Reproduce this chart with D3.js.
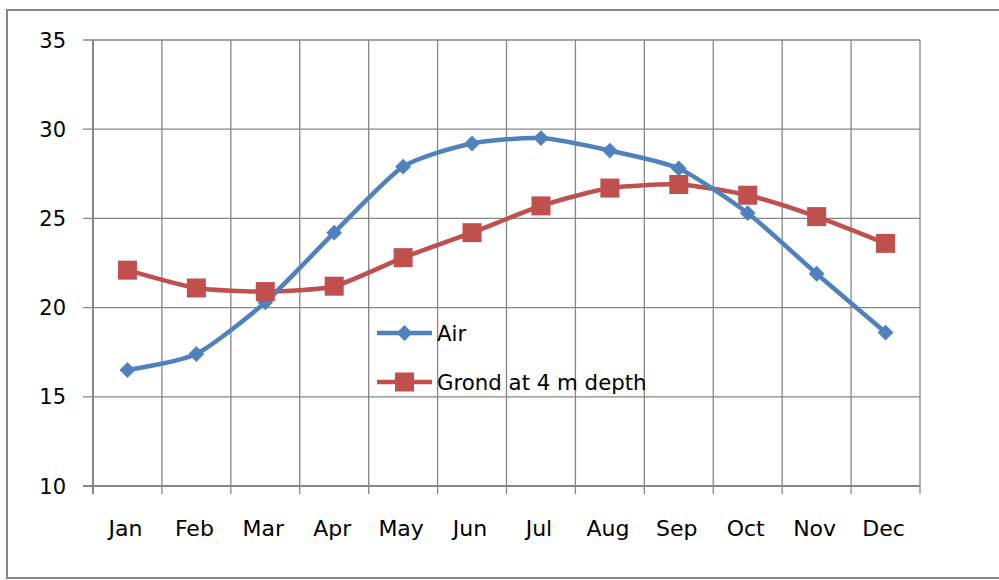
<!DOCTYPE html>
<html>
<head>
<meta charset="utf-8">
<script src="https://cdn.jsdelivr.net/npm/d3@7"></script>
<style>
  html, body { margin: 0; padding: 0; background: #fff; }
  svg { display: block; }
  text { font-family: "DejaVu Sans", "Open Sans", sans-serif; fill: #000; }
</style>
</head>
<body>
<svg id="chart" width="999" height="580"></svg>
<script>
// Monthly mean temperatures (°C)
const months = ["Jan", "Feb", "Mar", "Apr", "May", "Jun", "Jul", "Aug", "Sep", "Oct", "Nov", "Dec"];
const airTemp = [16.5, 17.4, 20.3, 24.2, 27.9, 29.2, 29.5, 28.8, 27.8, 25.3, 21.9, 18.6];
const groundTemp = [22.1, 21.1, 20.9, 21.2, 22.8, 24.2, 25.7, 26.7, 26.9, 26.3, 25.1, 23.6];
const yTicks = [10, 15, 20, 25, 30, 35];
const seriesNames = ["Air", "Grond at 4 m depth"];

const svg = d3.select("#chart");
const plot = { left: 93, right: 920, top: 40, bottom: 486 };
const gridColor = "#868686";
const blue = "#4F81BD", red = "#C0504D";

// outer chart frame
svg.append("rect")
  .attr("x", 7).attr("y", 10).attr("width", 1000).attr("height", 568)
  .attr("fill", "none").attr("stroke", gridColor).attr("stroke-width", 2);

const x = d3.scaleBand().domain(months).range([plot.left, plot.right]).padding(0);
const y = d3.scaleLinear().domain([10, 35]).range([plot.bottom, plot.top]);

// horizontal gridlines + y tick marks
svg.append("g").selectAll("line").data(yTicks).join("line")
  .attr("x1", plot.left - 10).attr("x2", plot.right)
  .attr("y1", d => y(d)).attr("y2", d => y(d))
  .attr("stroke", gridColor).attr("stroke-width", 1.3);

// vertical gridlines at category boundaries + x tick marks
const bounds = months.map(m => x(m)).concat([plot.right]);
svg.append("g").selectAll("line").data(bounds).join("line")
  .attr("x1", d => d).attr("x2", d => d)
  .attr("y1", plot.top).attr("y2", plot.bottom + 8)
  .attr("stroke", gridColor).attr("stroke-width", 1.3);

// axis lines
svg.append("line").attr("x1", plot.left).attr("x2", plot.left)
  .attr("y1", plot.top).attr("y2", plot.bottom + 8)
  .attr("stroke", gridColor).attr("stroke-width", 2);
svg.append("line").attr("x1", plot.left - 10).attr("x2", plot.right)
  .attr("y1", plot.bottom).attr("y2", plot.bottom)
  .attr("stroke", gridColor).attr("stroke-width", 2);

// y tick labels
svg.append("g").selectAll("text").data(yTicks).join("text")
  .attr("x", 66).attr("y", d => y(d)).attr("dy", "0.36em")
  .attr("text-anchor", "end").attr("font-size", 21)
  .text(d => d);

// x tick labels
svg.append("g").selectAll("text").data(months).join("text")
  .attr("x", d => x(d) + x.bandwidth() / 2 - 2).attr("y", 536)
  .attr("text-anchor", "middle").attr("font-size", 22)
  .text(d => d);

const cx = (d, i) => x(months[i]) + x.bandwidth() / 2;
const line = d3.line().x(cx).y(d => y(d)).curve(d3.curveCardinal.tension(0.35));

// ground series
svg.append("path").datum(groundTemp)
  .attr("d", line).attr("fill", "none")
  .attr("stroke", red).attr("stroke-width", 4.5).attr("stroke-linejoin", "round");
// air series
svg.append("path").datum(airTemp)
  .attr("d", line).attr("fill", "none")
  .attr("stroke", blue).attr("stroke-width", 4.5).attr("stroke-linejoin", "round");

const diamond = d3.symbol().type(d3.symbolDiamond2).size(160);
const sq = 19;

svg.append("g").selectAll("path").data(airTemp).join("path")
  .attr("d", diamond)
  .attr("transform", (d, i) => `translate(${cx(d, i)},${y(d)})`)
  .attr("fill", blue);

svg.append("g").selectAll("rect").data(groundTemp).join("rect")
  .attr("x", (d, i) => cx(d, i) - sq / 2).attr("y", d => y(d) - sq / 2)
  .attr("width", sq).attr("height", sq).attr("fill", red);

// legend
const legend = svg.append("g");
const legendRows = [
  { name: seriesNames[0], color: blue, marker: "diamond", y: 333 },
  { name: seriesNames[1], color: red, marker: "square", y: 382 }
];
legendRows.forEach(r => {
  legend.append("line").attr("x1", 377).attr("x2", 432)
    .attr("y1", r.y).attr("y2", r.y)
    .attr("stroke", r.color).attr("stroke-width", 4.5);
  if (r.marker === "diamond") {
    legend.append("path").attr("d", diamond)
      .attr("transform", `translate(404.5,${r.y})`).attr("fill", r.color);
  } else {
    legend.append("rect").attr("x", 404.5 - sq / 2).attr("y", r.y - sq / 2)
      .attr("width", sq).attr("height", sq).attr("fill", r.color);
  }
  legend.append("text").attr("x", 437).attr("y", r.y).attr("dy", "0.36em")
    .attr("font-size", 21.3).text(r.name);
});
</script>
</body>
</html>
